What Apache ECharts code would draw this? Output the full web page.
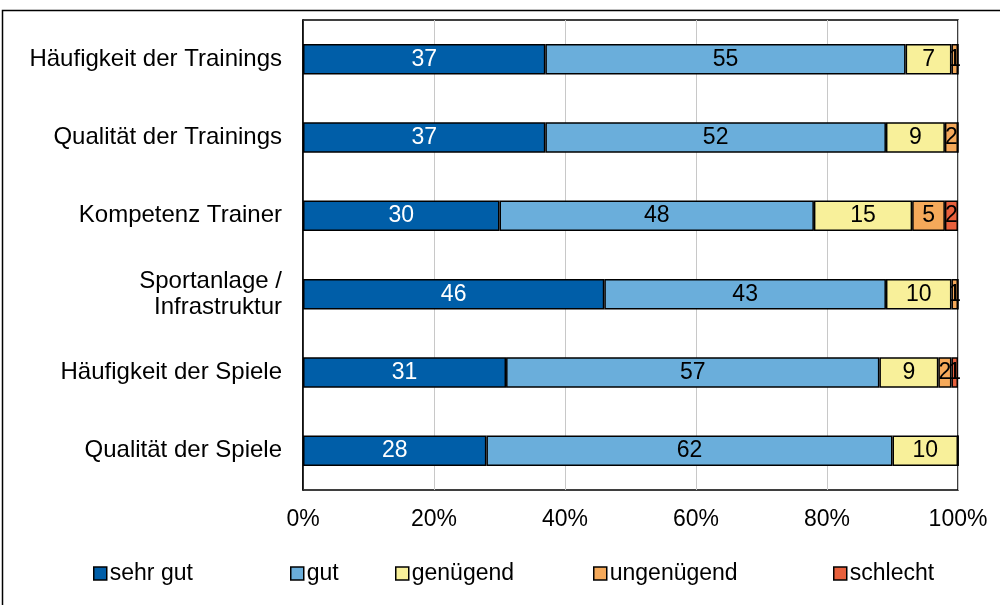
<!DOCTYPE html>
<html>
<head>
<meta charset="utf-8">
<script src="https://cdn.jsdelivr.net/npm/echarts@6/dist/echarts.min.js"></script>
<style>
  html, body { margin: 0; padding: 0; background: #fff; }
  #chart { width: 1000px; height: 605px; }
</style>
</head>
<body>
<div id="chart"></div>
<script>
// Kategorien (von oben nach unten)
const categories = [
  "Häufigkeit der Trainings",
  "Qualität der Trainings",
  "Kompetenz Trainer",
  "Sportanlage /\nInfrastruktur",
  "Häufigkeit der Spiele",
  "Qualität der Spiele"
];

const seriesNames = ["sehr gut", "gut", "genügend", "ungenügend", "schlecht"];

// Prozentwerte je Bewertung
const sehrGut = [37, 37, 30, 46, 31, 28];
const gut = [55, 52, 48, 43, 57, 62];
const genuegend = [7, 9, 15, 10, 9, 10];
const ungenuegend = [1, 2, 5, 1, 2, 0];
const schlecht = [0, 0, 2, 0, 1, 0];

const xTicks = [0, 20, 40, 60, 80, 100];

const colors = ["#005ea8", "#6aaedb", "#f8f09a", "#f5a95a", "#e8603c"];
const labelColors = ["#fff", "#000", "#000", "#000", "#000"];
const values = [sehrGut, gut, genuegend, ungenuegend, schlecht];

// Legendenpositionen (links)
const legendLeft = [88, 285, 390, 588, 828];

const font = "Liberation Sans, Arial, sans-serif";

const series = seriesNames.map((name, i) => ({
  name: name,
  type: "bar",
  stack: "total",
  barWidth: "39%",
  data: values[i],
  itemStyle: {
    color: colors[i],
    borderColor: "#000",
    borderWidth: 1.5
  },
  label: {
    show: true,
    position: "inside",
    color: labelColors[i],
    fontSize: 23,
    fontFamily: font,
    formatter: p => (p.value > 0 ? p.value : "")
  }
}));

const legends = seriesNames.map((name, i) => ({
  data: [name],
  left: legendLeft[i],
  top: 557,
  itemWidth: 13,
  itemHeight: 13,
  itemGap: 0,
  icon: "rect",
  itemStyle: { borderColor: "#000", borderWidth: 1.5 },
  textStyle: { fontSize: 23, fontFamily: font, color: "#000", padding: [0, 0, 0, -2] },
  selectedMode: false
}));

const chart = echarts.init(document.getElementById("chart"));
chart.setOption({
  animation: false,
  backgroundColor: "#fff",
  grid: {
    left: 303,
    right: 42,
    top: 20,
    bottom: 115,
    show: true,
    borderColor: "#000",
    borderWidth: 1.5
  },
  xAxis: {
    type: "value",
    min: xTicks[0],
    max: xTicks[xTicks.length - 1],
    interval: 20,
    axisLine: { show: false },
    axisTick: { show: false },
    axisLabel: {
      formatter: "{value}%",
      fontSize: 23,
      fontFamily: font,
      color: "#000",
      margin: 18
    },
    splitLine: { show: true, lineStyle: { color: "#c8c8c8", width: 1 } }
  },
  yAxis: {
    type: "category",
    inverse: true,
    data: categories,
    axisLine: { show: true, lineStyle: { color: "#000", width: 1.5 } },
    axisTick: { show: false },
    axisLabel: {
      fontSize: 24,
      fontFamily: font,
      color: "#000",
      margin: 21,
      lineHeight: 26,
      align: "right"
    }
  },
  legend: legends,
  graphic: [
    {
      type: "rect",
      shape: { x: 2.5, y: 10.5, width: 1010, height: 620 },
      style: { fill: null, stroke: "#000", lineWidth: 1.5 },
      silent: true
    }
  ],
  series: series
});
</script>
</body>
</html>
